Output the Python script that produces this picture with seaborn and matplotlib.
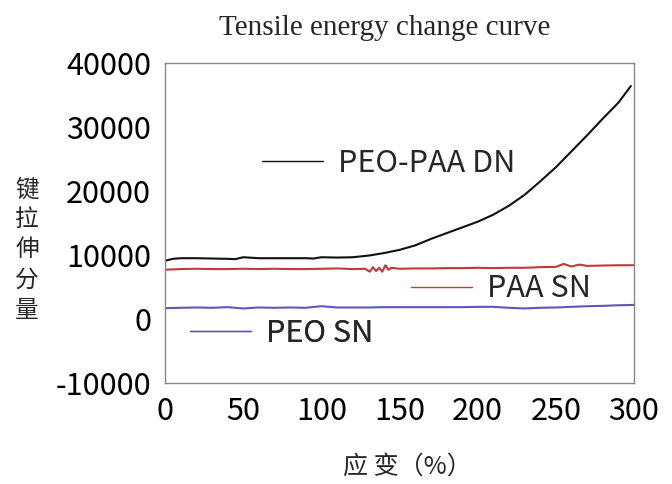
import matplotlib
matplotlib.use("Agg")
import matplotlib.pyplot as plt
import seaborn as sns
import pandas as pd
import numpy as np

# ---- data ----
strain_dn = [0, 5, 10, 20, 30, 40, 45, 50, 60, 70, 80, 90, 95, 100, 110, 120, 130, 140,
             150, 160, 170, 180, 190, 200, 210, 220, 230, 240, 250, 260, 270, 280, 290, 298]
energy_dn = [9100, 9400, 9500, 9500, 9450, 9400, 9350, 9650, 9500, 9500, 9500, 9500, 9450, 9650, 9600,
             9650, 9900, 10300, 10800, 11500, 12500, 13400, 14300, 15200, 16300, 17700, 19400,
             21500, 23700, 26200, 28700, 31300, 33800, 36400]

strain_paa = [0, 10, 20, 30, 40, 50, 60, 70, 80, 90, 100, 110, 120, 128, 131, 133, 135, 137,
              139, 141, 143, 145, 150, 160, 170, 180, 190, 200, 210, 220, 230, 240, 250, 255,
              260, 265, 270, 280, 290, 300]
energy_paa = [7700, 7800, 7850, 7800, 7800, 7850, 7800, 7850, 7800, 7800, 7850, 7900, 7800,
              7850, 7400, 8100, 7500, 8000, 7400, 8400, 7700, 8000, 7850, 7900, 7900, 7950,
              7950, 8000, 7950, 8000, 8000, 8100, 8150, 8600, 8200, 8500, 8300, 8350, 8400, 8400]

strain_peo = [0, 10, 20, 30, 40, 50, 60, 70, 80, 90, 100, 110, 120, 130, 140, 150, 160, 170,
              180, 190, 200, 210, 220, 230, 240, 250, 260, 270, 280, 290, 300]
energy_peo = [1700, 1750, 1800, 1750, 1850, 1650, 1800, 1750, 1800, 1750, 2000, 1800, 1800,
              1800, 1850, 1850, 1850, 1850, 1850, 1850, 1900, 1900, 1750, 1650, 1750, 1800,
              1900, 2000, 2050, 2150, 2200]

series_names = ["PEO-PAA DN", "PAA SN", "PEO SN"]
series_colors = ["#111111", "#c0393b", "#5e58b8"]

xticks = [0, 50, 100, 150, 200, 250, 300]
yticks = [-10000, 0, 10000, 20000, 30000, 40000]

df = pd.concat([
    pd.DataFrame({"strain": strain_dn, "energy": energy_dn, "series": series_names[0]}),
    pd.DataFrame({"strain": strain_paa, "energy": energy_paa, "series": series_names[1]}),
    pd.DataFrame({"strain": strain_peo, "energy": energy_peo, "series": series_names[2]}),
])

sns.set_style("white")
plt.rcParams["font.family"] = ["Noto Sans CJK SC", "DejaVu Sans"]
plt.rcParams["axes.unicode_minus"] = False

fig = plt.figure(figsize=(6.72, 4.84), dpi=100)
ax = fig.add_axes([165/672, 1-383/484, (634-165)/672, 320/484])

lines = []
for name, col in zip(series_names, series_colors):
    sub = df[df["series"] == name]
    sns.lineplot(data=sub, x="strain", y="energy", ax=ax, color=col, lw=1.5,
                 legend=False, sort=True, estimator=None)
    lines.append(ax.get_lines()[-1])

ax.set_xlim(0, 300)
ax.set_ylim(-10000, 40000)
ax.set_xticks(xticks)
ax.set_yticks(yticks)
ax.tick_params(direction="in", length=8, width=1, color="#777777", labelsize=22)
ax.tick_params(axis="x", pad=9)
ax.tick_params(axis="y", pad=10)
for lab in ax.get_xticklabels() + ax.get_yticklabels():
    lab.set_color("black")
    lab.set_fontweight("medium")
for s in ax.spines.values():
    s.set_color("#888888")
    s.set_linewidth(1.0)
ax.set_xlabel("")
ax.set_ylabel("")

# in-plot labels (legends)
anchors = [(0.207, 0.6875), (0.5245, 0.294), (0.0533, 0.156)]
for ln, name, (bx, by) in zip(lines, series_names, anchors):
    leg = ax.legend([ln], [name], loc="center left", bbox_to_anchor=(bx, by),
                    frameon=False, borderpad=0, borderaxespad=0,
                    handlelength=2.0, handletextpad=0.5,
                    prop={"size": 22, "weight": "medium"})
    for l in leg.get_lines():
        l.set_linewidth(1.0)
    ax.add_artist(leg)

fig.text(385/672, 1-28/484, "Tensile energy change curve", ha="center", va="center",
         fontsize=21, family="Liberation Serif")
fig.text(27/672, 1-250/484, "键\n拉\n伸\n分\n量", ha="center", va="center",
         fontsize=17, linespacing=1.4)
fig.text(407/672, 1-468/484, "应 变（%）", ha="center", va="center", fontsize=18)

fig.savefig("out.png", dpi=100)
